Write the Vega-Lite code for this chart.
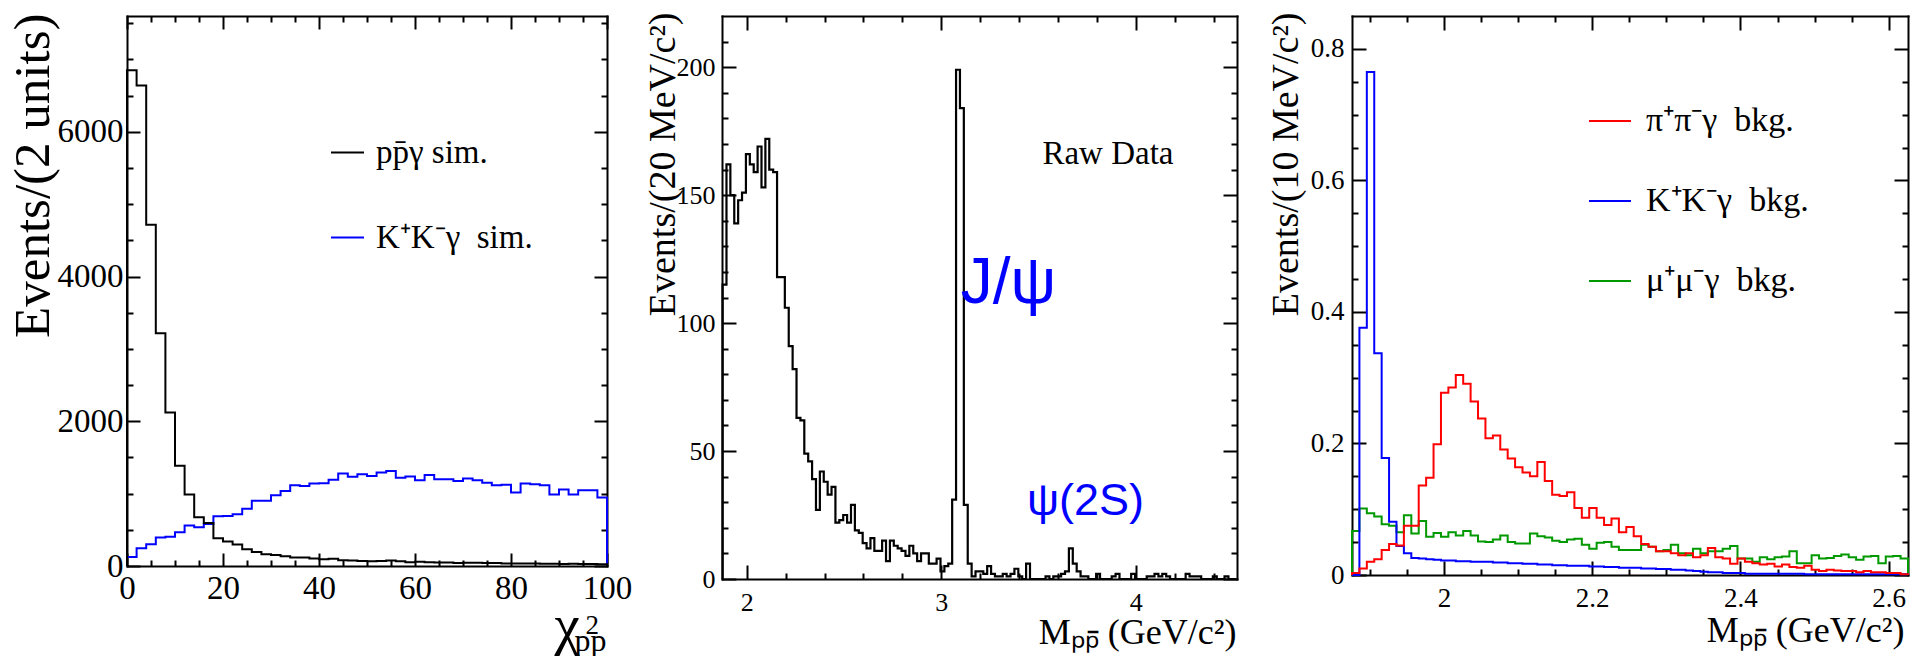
{
  "$schema": "https://vega.github.io/schema/vega-lite/v6.json",
  "background": "white",
  "padding": {"left": 7, "top": 7, "right": 0, "bottom": 0},
  "autosize": {"type": "pad"},
  "bounds": "flush",
  "spacing": 115,
  "resolve": {"scale": {"color": "independent"}, "legend": {"color": "independent"}},
  "config": {
    "view": {"stroke": null},
    "font": "Liberation Serif",
    "style": {"guide-label": {"font": "Liberation Serif"}, "guide-title": {"font": "Liberation Serif"}},
    "axis": {
      "grid": false, "domainColor": "black", "domainWidth": 2, "domainCap": "square",
      "tickColor": "black", "tickWidth": 2, "labelColor": "black", "titleColor": "black",
      "labelFont": "Liberation Serif", "titleFont": "Liberation Serif", "titleFontWeight": "normal",
      "labelFlush": false, "labelOverlap": false, "labelBound": false, "titleLimit": 2000, "zindex": 1
    },
    "legend": {"labelFont": "Liberation Serif", "labelColor": "black", "labelLimit": 0}
  },
  "datasets": {
    "p1": [
      {"x":0,"a":0,"b":0},
      {"x":0,"a":6850,"b":125},{"x":2,"a":6640,"b":245},{"x":4,"a":4715,"b":300},{"x":6,"a":3215,"b":395},
      {"x":8,"a":2122,"b":405},{"x":10,"a":1384,"b":466},{"x":12,"a":988,"b":560},{"x":14,"a":674,"b":535},
      {"x":16,"a":593,"b":581},{"x":18,"a":384,"b":686},{"x":20,"a":337,"b":692},{"x":22,"a":297,"b":715},
      {"x":24,"a":233,"b":791},{"x":26,"a":192,"b":901},{"x":28,"a":163,"b":901},{"x":30,"a":151,"b":977},
      {"x":32,"a":134,"b":1035},{"x":34,"a":116,"b":1116},{"x":36,"a":116,"b":1105},{"x":38,"a":105,"b":1140},
      {"x":40,"a":93,"b":1145},{"x":42,"a":99,"b":1192},{"x":44,"a":81,"b":1279},{"x":46,"a":76,"b":1233},
      {"x":48,"a":70,"b":1267},{"x":50,"a":64,"b":1244},{"x":52,"a":70,"b":1291},{"x":54,"a":76,"b":1314},
      {"x":56,"a":64,"b":1221},{"x":58,"a":52,"b":1238},{"x":60,"a":58,"b":1186},{"x":62,"a":52,"b":1256},
      {"x":64,"a":50,"b":1198},{"x":66,"a":47,"b":1198},{"x":68,"a":41,"b":1174},{"x":70,"a":45,"b":1209},
      {"x":72,"a":45,"b":1186},{"x":74,"a":41,"b":1151},{"x":76,"a":41,"b":1116},{"x":78,"a":35,"b":1122},
      {"x":80,"a":35,"b":1017},{"x":82,"a":33,"b":1140},{"x":84,"a":33,"b":1128},{"x":86,"a":30,"b":1116},
      {"x":88,"a":30,"b":988},{"x":90,"a":28,"b":1058},{"x":92,"a":30,"b":988},{"x":94,"a":27,"b":1047},
      {"x":96,"a":27,"b":1047},{"x":98,"a":25,"b":948},
      {"x":100,"a":25,"b":948},{"x":100,"a":0,"b":0}
    ],
    "p2": [
      {"x":1.876,"v":0},
      {"x":1.876,"v":115},{"x":1.896,"v":162},{"x":1.916,"v":150},{"x":1.936,"v":139},{"x":1.956,"v":148},
      {"x":1.976,"v":151},{"x":1.996,"v":166},{"x":2.016,"v":162},{"x":2.036,"v":159},{"x":2.056,"v":169},
      {"x":2.076,"v":153},{"x":2.096,"v":172},{"x":2.116,"v":160},{"x":2.136,"v":159},{"x":2.156,"v":118},
      {"x":2.176,"v":118},{"x":2.196,"v":106},{"x":2.216,"v":91},{"x":2.236,"v":82},{"x":2.256,"v":63},
      {"x":2.276,"v":62},{"x":2.296,"v":49},{"x":2.316,"v":46},{"x":2.336,"v":39},{"x":2.356,"v":27},
      {"x":2.376,"v":42},{"x":2.396,"v":38},{"x":2.416,"v":33},{"x":2.436,"v":36},{"x":2.456,"v":22},
      {"x":2.476,"v":23},{"x":2.496,"v":25},{"x":2.516,"v":22},{"x":2.536,"v":29},{"x":2.556,"v":19},
      {"x":2.576,"v":18},{"x":2.596,"v":14},{"x":2.616,"v":12},{"x":2.636,"v":16},{"x":2.656,"v":11},
      {"x":2.676,"v":11},{"x":2.696,"v":15},{"x":2.716,"v":7},{"x":2.736,"v":15},{"x":2.756,"v":13},
      {"x":2.776,"v":12},{"x":2.796,"v":11},{"x":2.816,"v":9},{"x":2.836,"v":13},{"x":2.856,"v":10},
      {"x":2.876,"v":7},{"x":2.896,"v":10},{"x":2.916,"v":10},{"x":2.936,"v":6},{"x":2.956,"v":6},
      {"x":2.976,"v":8},{"x":2.996,"v":3},{"x":3.016,"v":5},{"x":3.036,"v":6},{"x":3.056,"v":31},
      {"x":3.076,"v":199},{"x":3.096,"v":184},{"x":3.116,"v":29},{"x":3.136,"v":6},{"x":3.156,"v":1},
      {"x":3.176,"v":3},{"x":3.196,"v":3},{"x":3.216,"v":2},{"x":3.236,"v":5},{"x":3.256,"v":2},
      {"x":3.276,"v":1},{"x":3.296,"v":1},{"x":3.316,"v":2},{"x":3.336,"v":1},{"x":3.356,"v":2},
      {"x":3.376,"v":4},{"x":3.396,"v":1},{"x":3.416,"v":0},{"x":3.436,"v":6},{"x":3.456,"v":0},
      {"x":3.476,"v":0},{"x":3.496,"v":0},{"x":3.516,"v":0},{"x":3.536,"v":1},{"x":3.556,"v":0},
      {"x":3.576,"v":1},{"x":3.596,"v":1},{"x":3.616,"v":2},{"x":3.636,"v":3},{"x":3.656,"v":12},
      {"x":3.676,"v":6},{"x":3.696,"v":3},{"x":3.716,"v":1},{"x":3.736,"v":1},{"x":3.756,"v":0},
      {"x":3.776,"v":0},{"x":3.796,"v":2},{"x":3.816,"v":0},{"x":3.836,"v":0},{"x":3.856,"v":0},
      {"x":3.876,"v":1},{"x":3.896,"v":2},{"x":3.916,"v":0},{"x":3.936,"v":0},{"x":3.956,"v":0},
      {"x":3.976,"v":2},{"x":3.996,"v":0},{"x":4.016,"v":0},{"x":4.036,"v":0},{"x":4.056,"v":1},
      {"x":4.076,"v":1},{"x":4.096,"v":2},{"x":4.116,"v":1},{"x":4.136,"v":2},{"x":4.156,"v":1},
      {"x":4.176,"v":0},{"x":4.196,"v":0},{"x":4.216,"v":0},{"x":4.236,"v":0},{"x":4.256,"v":2},
      {"x":4.276,"v":1},{"x":4.296,"v":1},{"x":4.316,"v":1},{"x":4.336,"v":0},{"x":4.356,"v":0},
      {"x":4.376,"v":0},{"x":4.396,"v":1},{"x":4.416,"v":0},{"x":4.436,"v":0},{"x":4.456,"v":1},
      {"x":4.476,"v":0},{"x":4.496,"v":0},
      {"x":4.516,"v":0}
    ],
    "p3": [
      {"x":1.876,"r":0,"b":0,"g":0},
      {"x":1.876,"r":0.003,"b":0,"g":0.067},{"x":1.886,"r":0.010,"b":0.376,"g":0.101},
      {"x":1.896,"r":0.020,"b":0.765,"g":0.094},{"x":1.906,"r":0.024,"b":0.337,"g":0.089},
      {"x":1.916,"r":0.038,"b":0.178,"g":0.077},{"x":1.926,"r":0.047,"b":0.081,"g":0.075},
      {"x":1.936,"r":0.045,"b":0.044,"g":0.065},{"x":1.946,"r":0.075,"b":0.033,"g":0.091},
      {"x":1.956,"r":0.075,"b":0.026,"g":0.063},{"x":1.966,"r":0.136,"b":0.025,"g":0.082},
      {"x":1.976,"r":0.148,"b":0.024,"g":0.058},{"x":1.986,"r":0.199,"b":0.023,"g":0.064},
      {"x":1.996,"r":0.277,"b":0.022,"g":0.058},{"x":2.006,"r":0.285,"b":0.022,"g":0.065},
      {"x":2.016,"r":0.304,"b":0.021,"g":0.060},{"x":2.026,"r":0.291,"b":0.021,"g":0.067},
      {"x":2.036,"r":0.264,"b":0.020,"g":0.060},{"x":2.046,"r":0.238,"b":0.020,"g":0.051},
      {"x":2.056,"r":0.208,"b":0.020,"g":0.050},{"x":2.066,"r":0.212,"b":0.019,"g":0.054},
      {"x":2.076,"r":0.191,"b":0.019,"g":0.060},{"x":2.086,"r":0.177,"b":0.018,"g":0.050},
      {"x":2.096,"r":0.164,"b":0.018,"g":0.048},{"x":2.106,"r":0.156,"b":0.017,"g":0.048},
      {"x":2.116,"r":0.150,"b":0.017,"g":0.063},{"x":2.126,"r":0.172,"b":0.016,"g":0.059},
      {"x":2.136,"r":0.143,"b":0.016,"g":0.057},{"x":2.146,"r":0.122,"b":0.015,"g":0.052},
      {"x":2.156,"r":0.120,"b":0.015,"g":0.050},{"x":2.166,"r":0.126,"b":0.014,"g":0.054},
      {"x":2.176,"r":0.102,"b":0.014,"g":0.055},{"x":2.186,"r":0.087,"b":0.014,"g":0.046},
      {"x":2.196,"r":0.102,"b":0.013,"g":0.040},{"x":2.206,"r":0.087,"b":0.013,"g":0.049},
      {"x":2.216,"r":0.076,"b":0.012,"g":0.050},{"x":2.226,"r":0.086,"b":0.012,"g":0.043},
      {"x":2.236,"r":0.065,"b":0.011,"g":0.038},{"x":2.246,"r":0.073,"b":0.011,"g":0.038},
      {"x":2.256,"r":0.059,"b":0.011,"g":0.038},{"x":2.266,"r":0.047,"b":0.010,"g":0.046},
      {"x":2.276,"r":0.043,"b":0.010,"g":0.043},{"x":2.286,"r":0.036,"b":0.009,"g":0.036},
      {"x":2.296,"r":0.036,"b":0.009,"g":0.038},{"x":2.306,"r":0.033,"b":0.008,"g":0.046},
      {"x":2.316,"r":0.030,"b":0.008,"g":0.033},{"x":2.326,"r":0.033,"b":0.007,"g":0.030},
      {"x":2.336,"r":0.027,"b":0.006,"g":0.040},{"x":2.346,"r":0.030,"b":0.005,"g":0.033},
      {"x":2.356,"r":0.041,"b":0.004,"g":0.036},{"x":2.366,"r":0.027,"b":0.004,"g":0.036},
      {"x":2.376,"r":0.025,"b":0.003,"g":0.040},{"x":2.386,"r":0.017,"b":0.003,"g":0.044},
      {"x":2.396,"r":0.025,"b":0.003,"g":0.025},{"x":2.406,"r":0.020,"b":0.002,"g":0.025},
      {"x":2.416,"r":0.018,"b":0.002,"g":0.020},{"x":2.426,"r":0.016,"b":0.002,"g":0.027},
      {"x":2.436,"r":0.017,"b":0.002,"g":0.024},{"x":2.446,"r":0.013,"b":0.002,"g":0.027},
      {"x":2.456,"r":0.016,"b":0.002,"g":0.028},{"x":2.466,"r":0.012,"b":0.002,"g":0.036},
      {"x":2.476,"r":0.011,"b":0.002,"g":0.018},{"x":2.486,"r":0.014,"b":0.001,"g":0.018},
      {"x":2.496,"r":0.008,"b":0.001,"g":0.030},{"x":2.506,"r":0.006,"b":0.001,"g":0.025},
      {"x":2.516,"r":0.008,"b":0.001,"g":0.026},{"x":2.526,"r":0.007,"b":0.001,"g":0.029},
      {"x":2.536,"r":0.006,"b":0.001,"g":0.031},{"x":2.546,"r":0.006,"b":0.001,"g":0.027},
      {"x":2.556,"r":0.004,"b":0.001,"g":0.023},{"x":2.566,"r":0.006,"b":0.001,"g":0.028},
      {"x":2.576,"r":0.004,"b":0.001,"g":0.029},{"x":2.586,"r":0.004,"b":0.001,"g":0.018},
      {"x":2.596,"r":0.003,"b":0.001,"g":0.028},{"x":2.606,"r":0.003,"b":0.001,"g":0.029},
      {"x":2.616,"r":0.001,"b":0.001,"g":0.025},
      {"x":2.626,"r":0.001,"b":0.001,"g":0.025},{"x":2.626,"r":0,"b":0,"g":0}
    ]
  },
  "hconcat": [
    {
      "width": 480, "height": 550,
      "layer": [
        {
          "data": {"name": "p1"},
          "transform": [{"fold": ["b", "a"], "as": ["s", "val"]}],
          "mark": {"type": "line", "interpolate": "step-after", "strokeWidth": 2, "strokeCap": "butt", "strokeJoin": "miter"},
          "encoding": {
            "x": {"field": "x", "type": "quantitative", "scale": {"domain": [0, 100], "nice": false, "zero": false},
              "axis": {"orient": "bottom", "values": [0,5,10,15,20,25,30,35,40,45,50,55,60,65,70,75,80,85,90,95,100],
                "tickSize": {"condition": {"test": "datum.value % 20 === 0", "value": -13}, "value": -6},
                "format": "d", "labelExpr": "datum.value % 20 === 0 ? datum.label : ''",
                "labelFont": "Liberation Serif", "labelOverlap": false, "labelFontSize": 33, "labelPadding": 19,
                "title": "χ", "titleFont": "Liberation Serif", "titleFontSize": 57, "titleAlign": "left", "titleBaseline": "alphabetic", "titleX": 427, "titleY": 77}},
            "y": {"field": "val", "type": "quantitative", "scale": {"domain": [0, 7600], "nice": false},
              "axis": {"orient": "left", "values": [0,500,1000,1500,2000,2500,3000,3500,4000,4500,5000,5500,6000,6500,7000,7500],
                "tickSize": {"condition": {"test": "datum.value % 2000 === 0", "value": -13}, "value": -6},
                "format": "d", "labelExpr": "datum.value % 2000 === 0 ? datum.label : ''",
                "labelFont": "Liberation Serif", "labelOverlap": false, "labelFontSize": 33, "labelPadding": 17,
                "title": "Events/(2 units)", "titleFont": "Liberation Serif", "titleFontSize": 51, "titleAngle": 270, "titleAlign": "right", "titleBaseline": "alphabetic", "titleX": -79, "titleY": -3}},
            "color": {"field": "s", "type": "nominal",
              "scale": {"domain": ["a", "b"], "range": ["#000000", "#0000ff"]},
              "legend": {"orient": "none", "legendX": 203, "legendY": 119, "title": null, "padding": 0,
                "symbolType": "stroke", "symbolSize": 1089, "symbolStrokeWidth": 2,
                "labelFont": "Liberation Serif", "labelFontSize": 33, "labelOffset": 11, "rowPadding": 50,
                "labelExpr": "datum.label === 'a' ? 'pp̄γ sim.' : 'K⁺K⁻γ\u00a0 sim.'"}},
            "order": {"value": null}
          }
        },
        {
          "data": {"name": "p1"},
          "transform": [{"fold": ["a"], "as": ["s", "val"]}],
          "mark": {"type": "line", "opacity": 0},
          "encoding": {
            "x": {"field": "x", "type": "quantitative", "scale": {"domain": [0, 100], "nice": false, "zero": false},
              "axis": {"orient": "top", "values": [0,5,10,15,20,25,30,35,40,45,50,55,60,65,70,75,80,85,90,95,100],
                "tickSize": {"condition": {"test": "datum.value % 20 === 0", "value": -13}, "value": -6},
                "labels": false,
                "title": "2", "titleFont": "Liberation Serif", "titleFontSize": 27, "titleAngle": 0, "titleAlign": "left", "titleBaseline": "alphabetic", "titleX": 458, "titleY": 617}},
            "y": {"field": "val", "type": "quantitative", "scale": {"domain": [0, 7600], "nice": false},
              "axis": {"orient": "right", "values": [0,500,1000,1500,2000,2500,3000,3500,4000,4500,5000,5500,6000,6500,7000,7500],
                "tickSize": {"condition": {"test": "datum.value % 2000 === 0", "value": -13}, "value": -6},
                "labels": false,
                "title": "pp", "titleFont": "Liberation Serif", "titleFontSize": 32, "titleAngle": 0, "titleAlign": "left", "titleBaseline": "alphabetic", "titleX": -33, "titleY": 634}},
            "order": {"value": null}
          }
        }
      ],
      "resolve": {"axis": {"x": "independent", "y": "independent"}}
    },
    {
      "width": 515, "height": 563,
      "layer": [
        {
          "data": {"name": "p2"},
          "mark": {"type": "line", "interpolate": "step-after", "strokeWidth": 2.2, "color": "black", "strokeCap": "butt", "strokeJoin": "miter"},
          "encoding": {
            "x": {"field": "x", "type": "quantitative", "scale": {"domain": [1.873, 4.52], "nice": false, "zero": false},
              "axis": {"orient": "bottom", "values": [2,2.2,2.4,2.6,2.8,3,3.2,3.4,3.6,3.8,4,4.2,4.4],
                "tickSize": {"condition": {"test": "abs(datum.value - round(datum.value)) < 0.001", "value": -14}, "value": -6},
                "format": "~g", "labelExpr": "abs(datum.value - round(datum.value)) < 0.001 ? datum.label : ''",
                "labelFont": "Liberation Serif", "labelOverlap": false, "labelFontSize": 26, "labelPadding": 24,
                "title": "Mₚₚ̄ (GeV/c²)", "titleFont": "Liberation Serif", "titleFontSize": 36, "titleAlign": "right", "titleBaseline": "alphabetic", "titleX": 514, "titleY": 64}},
            "y": {"field": "v", "type": "quantitative", "scale": {"domain": [0, 220], "nice": false},
              "axis": {"orient": "left", "values": [0,10,20,30,40,50,60,70,80,90,100,110,120,130,140,150,160,170,180,190,200,210],
                "tickSize": {"condition": {"test": "datum.value % 50 === 0", "value": -14}, "value": -6},
                "format": "d", "labelExpr": "datum.value % 50 === 0 ? datum.label : ''",
                "labelFont": "Liberation Serif", "labelOverlap": false, "labelFontSize": 26, "labelPadding": 21,
                "title": "Events/(20 MeV/c²)", "titleFont": "Liberation Serif", "titleFontSize": 38, "titleAngle": 270, "titleAlign": "right", "titleBaseline": "alphabetic", "titleX": -48, "titleY": -4}},
            "order": {"value": null}
          }
        },
        {
          "data": {"name": "p2"},
          "mark": {"type": "line", "opacity": 0},
          "encoding": {
            "x": {"field": "x", "type": "quantitative", "scale": {"domain": [1.873, 4.52], "nice": false, "zero": false},
              "axis": {"orient": "top", "values": [2,2.2,2.4,2.6,2.8,3,3.2,3.4,3.6,3.8,4,4.2,4.4],
                "tickSize": {"condition": {"test": "abs(datum.value - round(datum.value)) < 0.001", "value": -14}, "value": -6},
                "labels": false, "title": null}},
            "y": {"field": "v", "type": "quantitative", "scale": {"domain": [0, 220], "nice": false},
              "axis": {"orient": "right", "values": [0,10,20,30,40,50,60,70,80,90,100,110,120,130,140,150,160,170,180,190,200,210],
                "tickSize": {"condition": {"test": "datum.value % 50 === 0", "value": -14}, "value": -6},
                "labels": false, "title": null}},
            "order": {"value": null}
          }
        },
        {
          "data": {"values": [{}]},
          "mark": {"type": "text", "text": "Raw Data", "font": "Liberation Serif", "fontSize": 33, "align": "left", "baseline": "alphabetic", "color": "black"},
          "encoding": {"x": {"datum": 3.52, "type": "quantitative", "axis": null}, "y": {"datum": 162, "type": "quantitative", "axis": null}}
        },
        {
          "data": {"values": [{}]},
          "mark": {"type": "text", "text": "J/ψ", "font": "Liberation Sans", "fontSize": 64, "align": "left", "baseline": "alphabetic", "color": "#0000ff"},
          "encoding": {"x": {"datum": 3.1, "type": "quantitative", "axis": null}, "y": {"datum": 108, "type": "quantitative", "axis": null}}
        },
        {
          "data": {"values": [{}]},
          "mark": {"type": "text", "text": "ψ(2S)", "font": "Liberation Sans", "fontSize": 45, "align": "left", "baseline": "alphabetic", "color": "#0000ff"},
          "encoding": {"x": {"datum": 3.44, "type": "quantitative", "axis": null}, "y": {"datum": 25, "type": "quantitative", "axis": null}}
        }
      ],
      "resolve": {"axis": {"x": "independent", "y": "independent"}}
    },
    {
      "width": 556, "height": 559,
      "layer": [
        {
          "data": {"name": "p3"},
          "transform": [{"fold": ["g", "b", "r"], "as": ["s", "val"]}],
          "mark": {"type": "line", "interpolate": "step-after", "strokeWidth": 2, "strokeCap": "butt", "strokeJoin": "miter"},
          "encoding": {
            "x": {"field": "x", "type": "quantitative", "scale": {"domain": [1.876, 2.626], "nice": false, "zero": false},
              "axis": {"orient": "bottom", "values": [1.9,1.95,2,2.05,2.1,2.15,2.2,2.25,2.3,2.35,2.4,2.45,2.5,2.55,2.6],
                "tickSize": {"condition": {"test": "abs(datum.value*5 - round(datum.value*5)) < 0.001", "value": -14}, "value": -6},
                "format": "~g", "labelExpr": "abs(datum.value*5 - round(datum.value*5)) < 0.001 ? datum.label : ''",
                "labelFont": "Liberation Serif", "labelOverlap": false, "labelFontSize": 27, "labelPadding": 24,
                "title": "Mₚₚ̄ (GeV/c²)", "titleFont": "Liberation Serif", "titleFontSize": 36, "titleAlign": "right", "titleBaseline": "alphabetic", "titleX": 552, "titleY": 66}},
            "y": {"field": "val", "type": "quantitative", "scale": {"domain": [0, 0.85], "nice": false},
              "axis": {"orient": "left", "values": [0,0.05,0.1,0.15,0.2,0.25,0.3,0.35,0.4,0.45,0.5,0.55,0.6,0.65,0.7,0.75,0.8],
                "tickSize": {"condition": {"test": "abs(datum.value*5 - round(datum.value*5)) < 0.001", "value": -14}, "value": -6},
                "format": "~g", "labelExpr": "abs(datum.value*5 - round(datum.value*5)) < 0.001 ? datum.label : ''",
                "labelFont": "Liberation Serif", "labelOverlap": false, "labelFontSize": 27, "labelPadding": 22,
                "title": "Events/(10 MeV/c²)", "titleFont": "Liberation Serif", "titleFontSize": 38, "titleAngle": 270, "titleAlign": "right", "titleBaseline": "alphabetic", "titleX": -55, "titleY": -4}},
            "color": {"field": "s", "type": "nominal",
              "scale": {"domain": ["r", "b", "g"], "range": ["#ff0000", "#0000ff", "#009900"]},
              "legend": {"orient": "none", "legendX": 236, "legendY": 83, "title": null, "padding": 0,
                "symbolType": "stroke", "symbolSize": 1764, "symbolStrokeWidth": 2,
                "labelFont": "Liberation Serif", "labelFontSize": 34, "labelOffset": 14, "rowPadding": 41,
                "labelExpr": "datum.label === 'r' ? 'π⁺π⁻γ\u00a0 bkg.' : datum.label === 'b' ? 'K⁺K⁻γ\u00a0 bkg.' : 'μ⁺μ⁻γ\u00a0 bkg.'"}},
            "order": {"value": null}
          }
        },
        {
          "data": {"name": "p3"},
          "transform": [{"fold": ["r"], "as": ["s", "val"]}],
          "mark": {"type": "line", "opacity": 0},
          "encoding": {
            "x": {"field": "x", "type": "quantitative", "scale": {"domain": [1.876, 2.626], "nice": false, "zero": false},
              "axis": {"orient": "top", "values": [1.9,1.95,2,2.05,2.1,2.15,2.2,2.25,2.3,2.35,2.4,2.45,2.5,2.55,2.6],
                "tickSize": {"condition": {"test": "abs(datum.value*5 - round(datum.value*5)) < 0.001", "value": -14}, "value": -6},
                "labels": false, "title": null}},
            "y": {"field": "val", "type": "quantitative", "scale": {"domain": [0, 0.85], "nice": false},
              "axis": {"orient": "right", "values": [0,0.05,0.1,0.15,0.2,0.25,0.3,0.35,0.4,0.45,0.5,0.55,0.6,0.65,0.7,0.75,0.8],
                "tickSize": {"condition": {"test": "abs(datum.value*5 - round(datum.value*5)) < 0.001", "value": -14}, "value": -6},
                "labels": false, "title": null}},
            "order": {"value": null}
          }
        }
      ],
      "resolve": {"axis": {"x": "independent", "y": "independent"}}
    }
  ]
}
